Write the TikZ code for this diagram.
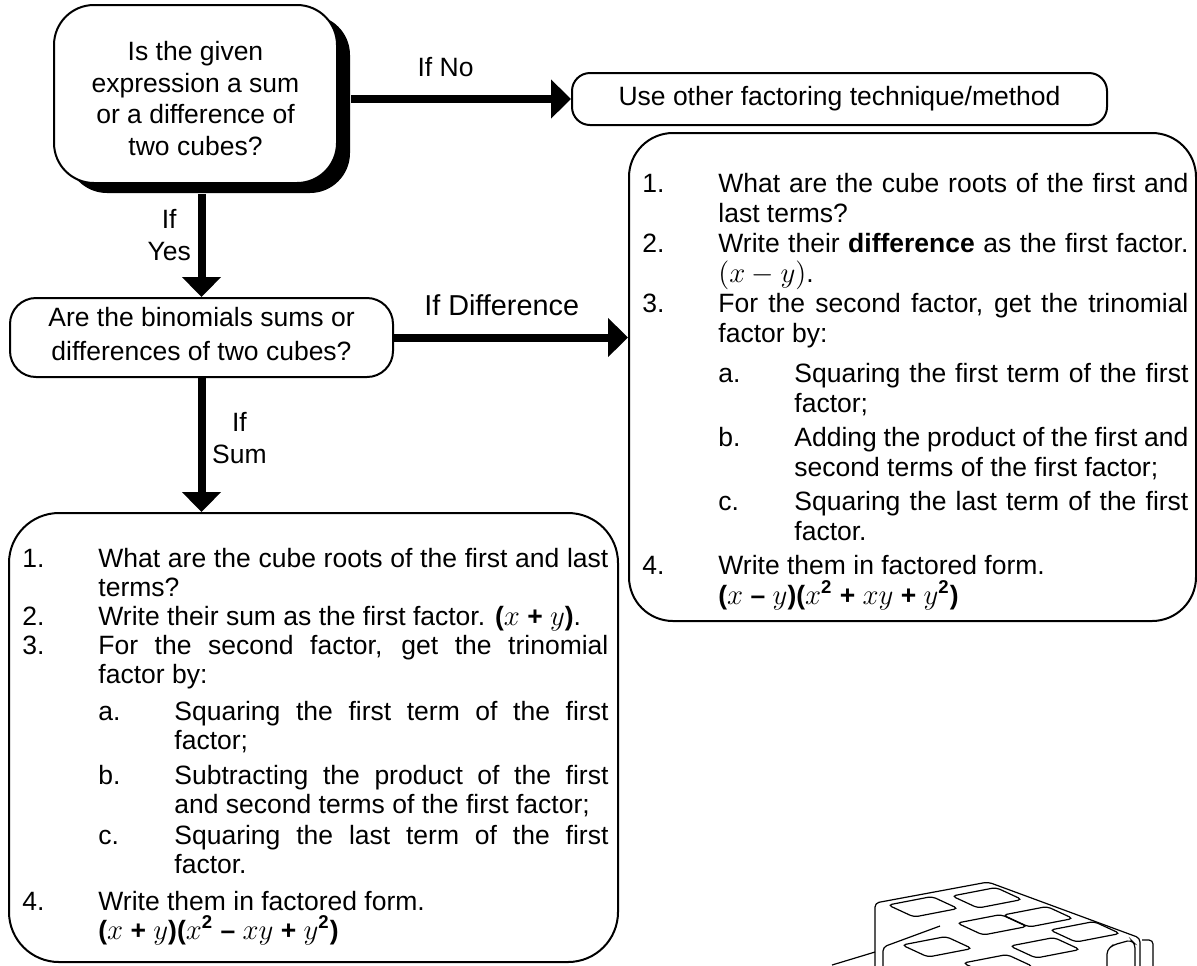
\documentclass[tikz,border=0pt]{standalone}
\usepackage{fontspec}
\setmainfont{Liberation Sans}[WordSpace={1,1,0.5}]
\usepackage{amsmath,amssymb}
\usetikzlibrary{arrows.meta, shadows, positioning}
\tikzset{>=latex}
\hyphenpenalty=10000
\exhyphenpenalty=10000
\newcommand{\stepnum}[2]{\par\noindent\hangindent=38pt\hangafter=1\makebox[38pt][l]{#1}#2\par}
\newcommand{\steplet}[2]{\par{\leftskip=38pt\noindent\hangindent=38pt\hangafter=1\makebox[38pt][l]{#1}#2\par}}

\begin{document}
\begin{tikzpicture}[x=0.5pt, y=-0.5pt, font=\fontsize{13.25}{15.85}\selectfont,
qbox/.style={draw, line width=1pt, fill=white, align=center, inner sep=0pt},
listbox/.style={draw, line width=1pt, inner sep=0pt},
steps/.style={anchor=north west, inner sep=0pt, text width=#1, align=justify},
flow/.style={line width=4pt, -{Triangle[length=10pt, width=19pt]}},
lbl/.style={align=center},
cubeline/.style={line width=0.6pt, rounded corners=2pt}
]
\useasboundingbox (0,0) rectangle (1197,965);
\node[qbox, rounded corners=20pt, minimum width=141.5pt, minimum height=89pt,
drop shadow={shadow xshift=6.5pt, shadow yshift=-5pt, opacity=1, fill=black}]
(given) at (195.5,94) {\rule{0pt}{14pt}Is the given\\expression a sum\\or a difference of\\two cubes?};
\node[qbox, rounded corners=9pt, minimum width=267.5pt, minimum height=26pt]
(other) at (839.5,99) {Use other factoring technique/method};
\node[qbox, rounded corners=13pt, minimum width=191.5pt, minimum height=39.5pt,
font=\fontsize{13.25}{17}\selectfont]
(kind) at (201.5,337.5) {Are the binomials sums or\\differences of two cubes?\rule[-4pt]{0pt}{0pt}};
\node[listbox, rounded corners=22pt, minimum width=283.5pt, minimum height=244pt] (diff) at (912.5,377) {};
\node[listbox, rounded corners=25pt, minimum width=304.5pt, minimum height=224.5pt] (sum) at (313.5,737.5) {};

\node[steps=273pt, font=\fontsize{13.25}{15}\selectfont] (difftext) at (642,162) {
\stepnum{1.}{What are the cube roots of the first and last terms?}
\stepnum{2.}{Write their \textbf{difference} as the first factor. $(x-y)$.}
\stepnum{3.}{For the second factor, get the trinomial factor by:}
\vspace{5pt}\steplet{a.}{Squaring the first term of the first factor;}
\vspace{2pt}\steplet{b.}{Adding the product of the first and second terms of the first factor;}
\vspace{2pt}\steplet{c.}{Squaring the last term of the first factor.}
\vspace{2pt}\stepnum{4.}{Write them in factored form.\hfill\break
\textbf{(}$x$ \textbf{--} $y$\textbf{)(}$x^{\mathbf{2}}$ \textbf{+} $xy$ \textbf{+} $y^{\mathbf{2}}$\textbf{)}}
};
\node[steps=293pt, font=\fontsize{13.25}{14.5}\selectfont] (sumtext) at (22,538) {
\stepnum{1.}{What are the cube roots of the first and last terms?}
\stepnum{2.}{Write their sum as the first factor. \textbf{(}$x$ \textbf{+} $y$\textbf{)}.}
\stepnum{3.}{For the second factor, get the trinomial factor by:}
\vspace{4pt}\steplet{a.}{Squaring the first term of the first factor;}
\vspace{3pt}\steplet{b.}{Subtracting the product of the first and second terms of the first factor;}
\vspace{1pt}\steplet{c.}{Squaring the last term of the first factor.}
\vspace{4pt}\stepnum{4.}{Write them in factored form.\hfill\break
\textbf{(}$x$ \textbf{+} $y$\textbf{)(}$x^{\mathbf{2}}$ \textbf{--} $xy$ \textbf{+} $y^{\mathbf{2}}$\textbf{)}}
};

\draw[flow] ([xshift=6.5pt]given.east |- other.west) -- node[lbl, above=6pt, pos=0.43] (nolbl) {If No} (other.west);
\draw[flow] ([yshift=-5pt]given.south -| kind.north) -- node[lbl, left, pos=0.4] (yeslbl) {If\\Yes} (kind.north);
\draw[flow] (kind.east) -- node[lbl, above=5.5pt, pos=0.46, font=\fontsize{14.4}{16}\selectfont] (difflbl) {If Difference} (kind.east -| diff.west);
\draw[flow] (kind.south) -- node[lbl, right, pos=0.45] (sumlbl) {If\\Sum} (kind.south |- sum.north);

\begin{scope}
\clip (0,0) rectangle (1197,965);
\draw[cubeline] (875,975) -- (875,903) -- (988,882) -- (1140,938) -- (1140,975);
\draw[cubeline] (1142,940) -- (1153,940) -- (1153,975);
\draw[cubeline] (832,965) -- (875,952);
\draw[cubeline] (883,975) -- (883,947) -- (940,926);
\draw[cubeline] (1107,975) -- (1107,950) -- (1113,945) -- (1131,940) -- (1135,944) -- (1135,975);
\foreach \x/\y in {888/905, 952/896, 957/923, 1003/915, 1050/930, 902/945, 1010/946, 963/963}
\draw[cubeline] (\x,\y) -- ++(44,-8.5) -- ++(26,12) -- ++(-44,8.5) -- cycle;
\end{scope}
\end{tikzpicture}
\end{document}
